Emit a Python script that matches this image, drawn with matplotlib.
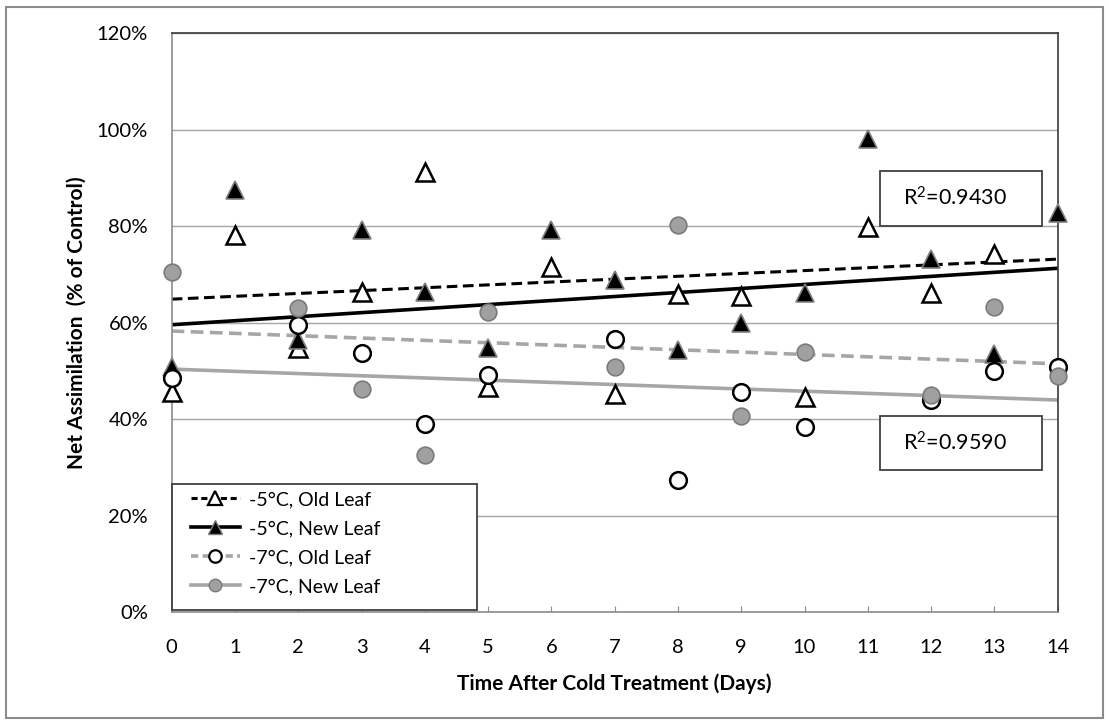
import numpy as np
import matplotlib.pyplot as plt
from matplotlib.patches import Rectangle
from matplotlib.lines import Line2D

plt.rcParams['font.family'] = ['Lato', 'DejaVu Sans']
plt.rcParams['mathtext.fontset'] = 'custom'
plt.rcParams['mathtext.rm'] = 'Lato'

days = np.arange(0, 15)

# % of control
old_5 = [45.7, 78.2, 54.7, 66.4, 91.3, 46.8, 71.6, 45.2, 66.0, 65.6, 44.7, 79.9, 66.1, 74.3, np.nan]
new_5 = [50.9, 87.5, 56.4, 79.3, 66.4, 54.7, 79.3, 68.9, 54.4, 60.0, 66.1, 98.2, 73.2, 53.5, 82.7]
old_7 = [48.5, np.nan, 59.5, 53.7, 39.0, 49.2, np.nan, 56.6, 27.4, 45.6, 38.5, np.nan, 44.0, 50.1, 50.8]
new_7 = [70.5, np.nan, 63.0, 46.2, 32.6, 62.3, np.nan, 50.9, 80.3, 40.7, 53.9, np.nan, 45.0, 63.2, 49.0]

# trendline end values (day 0, day 14)
trend_days = [0, 14]
trend_old_5 = [64.9, 73.2]
trend_new_5 = [59.6, 71.3]
trend_old_7 = [58.3, 51.5]
trend_new_7 = [50.4, 44.0]

labels = ['-5°C, Old Leaf', '-5°C, New Leaf', '-7°C, Old Leaf', '-7°C, New Leaf']
r2_texts = [r'$\mathregular{R^2}$=0.9430', r'$\mathregular{R^2}$=0.9590']

gray = '#a6a6a6'
W, H = 1109, 723

fig = plt.figure(figsize=(W / 100, H / 100), dpi=100)
ax = fig.add_axes([0.1548, 0.1531, 0.7989, 0.8008])

# trend lines
ax.plot(trend_days, trend_old_5, color='black', lw=2.2, ls=(0, (3.5, 1.8)), zorder=2)
ax.plot(trend_days, trend_new_5, color='black', lw=2.6, zorder=2)
ax.plot(trend_days, trend_old_7, color=gray, lw=2.6, ls=(0, (3.5, 1.8)), zorder=2)
ax.plot(trend_days, trend_new_7, color=gray, lw=2.6, zorder=2)

# markers
tri = dict(marker='^', ms=13, ls='none', clip_on=False, zorder=4)
cir = dict(marker='o', ms=12, ls='none', clip_on=False, zorder=4)
ax.plot(days, old_5, mfc='white', mec='black', mew=1.8, **tri)
ax.plot(days, new_5, mfc='black', mec='#7f7f7f', mew=1.2, **tri)
ax.plot(days, old_7, mfc='white', mec='black', mew=1.8, **cir)
ax.plot(days, new_7, mfc='#a0a0a0', mec='#7a7a7a', mew=1.2, **cir)

ax.set_xlim(0, 14)
ax.set_ylim(0, 120)
ax.set_xticks(days)
ax.set_yticks(np.arange(0, 121, 20))
ax.set_yticklabels([f'{v}%' for v in range(0, 121, 20)])
ax.grid(axis='y', color='#a6a6a6', lw=1)
ax.set_axisbelow(True)
ax.tick_params(axis='x', direction='in', length=4, color='#8c8c8c', labelsize=14.5, pad=19)
ax.tick_params(axis='y', length=0, labelsize=14.5, pad=17)
for s in ['left', 'bottom']:
    ax.spines[s].set_color('#8c8c8c')
    ax.spines[s].set_linewidth(1.2)
for s in ['top', 'right']:
    ax.spines[s].set_color('#3a3a3a')
    ax.spines[s].set_linewidth(1.2)

ax.set_xlabel('Time After Cold Treatment (Days)', fontsize=15, fontweight='bold')
ax.xaxis.set_label_coords(0.5, -0.105)
ax.set_ylabel('Net Assimilation  (% of Control)', fontsize=15, fontweight='bold')
ax.yaxis.set_label_coords(-0.0955, 0.5)

# legend, framed by its own box
handles = [
    Line2D([], [], color='black', lw=2.2, ls=(0, (2, 1.2)), marker='^', ms=10, mfc='white', mec='black', mew=1.6),
    Line2D([], [], color='black', lw=2.6, marker='^', ms=10, mfc='black', mec='#7f7f7f', mew=1),
    Line2D([], [], color=gray, lw=2.6, ls=(0, (2, 1.2)), marker='o', ms=9, mfc='white', mec='black', mew=1.6),
    Line2D([], [], color=gray, lw=2.6, marker='o', ms=9, mfc='#a0a0a0', mec='#7a7a7a', mew=1),
]
ax.add_patch(Rectangle((0, 0.004), 0.345, 0.2176, transform=ax.transAxes, facecolor='white',
                       edgecolor='#404040', lw=1.3, zorder=5, clip_on=False))
leg = ax.legend(handles, labels, loc='upper left', bbox_to_anchor=(19 / 886, (612.3 - 491) / 579),
                borderaxespad=0, borderpad=0, fontsize=14, frameon=False, handlelength=2.55,
                handletextpad=0.45, labelspacing=0.62)
leg.set_zorder(6)

# R² boxes
for (y0, y1), txt in zip([(80.1, 91.5), (29.5, 40.7)], r2_texts):
    ax.add_patch(Rectangle((11.2, y0), 2.55, y1 - y0, facecolor='white', edgecolor='#404040',
                           lw=1.3, zorder=5))
    ax.text(12.38, (y0 + y1) / 2, txt, ha='center', va='center', fontsize=15.5, zorder=6)

# outer border
fig.add_artist(Rectangle((5.5 / W, 5.5 / H), 1097 / W, 711 / H, transform=fig.transFigure,
                         fill=False, edgecolor='#8c8c8c', lw=1.5))

fig.savefig('out.png', dpi=100)
